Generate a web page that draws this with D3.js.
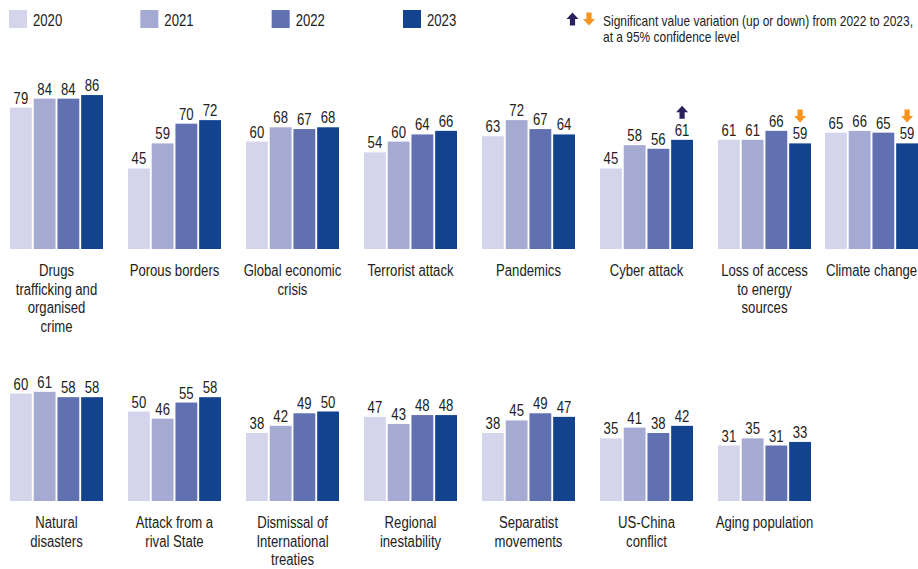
<!DOCTYPE html>
<html>
<head>
<meta charset="utf-8">
<script src="https://cdn.jsdelivr.net/npm/d3@7"></script>
<style>
  html, body { margin: 0; padding: 0; background: #fff; }
  svg { display: block; }
</style>
</head>
<body>
<svg id="chart" width="918" height="569"></svg>
<script>
// ---------- DATA ----------
const years = ["2020", "2021", "2022", "2023"];
const categories = [
  "Drugs trafficking and organised crime", "Porous borders", "Global economic crisis",
  "Terrorist attack", "Pandemics", "Cyber attack", "Loss of access to energy sources",
  "Climate change", "Natural disasters", "Attack from a rival State",
  "Dismissal of International treaties", "Regional inestability", "Separatist movements",
  "US-China conflict", "Aging population"
];
const labelLines = [
  ["Drugs", "trafficking and", "organised", "crime"], ["Porous borders"], ["Global economic", "crisis"],
  ["Terrorist attack"], ["Pandemics"], ["Cyber attack"], ["Loss of access", "to energy", "sources"],
  ["Climate change"], ["Natural", "disasters"], ["Attack from a", "rival State"],
  ["Dismissal of", "International", "treaties"], ["Regional", "inestability"], ["Separatist", "movements"],
  ["US-China", "conflict"], ["Aging population"]
];
const v2020 = [79, 45, 60, 54, 63, 45, 61, 65, 60, 50, 38, 47, 38, 35, 31];
const v2021 = [84, 59, 68, 60, 72, 58, 61, 66, 61, 46, 42, 43, 45, 41, 35];
const v2022 = [84, 70, 67, 64, 67, 56, 66, 65, 58, 55, 49, 48, 49, 38, 31];
const v2023 = [86, 72, 68, 66, 64, 61, 59, 59, 58, 58, 50, 48, 47, 42, 33];
// significant variation 2022 -> 2023: "up", "down" or null
const significance = [null, null, null, null, null, "up", "down", "down", null, null, null, null, null, null, null];
const legendNote = ["Significant value variation (up or down) from 2022 to 2023,", "at a 95% confidence level"];

// ---------- STYLE ----------
const colors = ["#d4d5ea", "#a5aad3", "#6070b0", "#13438f"];
const upColor = "#2b205e", downColor = "#f7941d";
const textColor = "#222";
const W = 918, H = 569;
const FONT = "'Liberation Sans', Arial, sans-serif";
const SX = 0.82; // narrow (condensed) look

const svg = d3.select("#chart");
const series = [v2020, v2021, v2022, v2023];

const perRow = 8;
const panelW = 93;
const colStep = 118;
const rowBase = [249, 501];
const panelX = col => Math.min(10 + col * colStep, W - panelW);

const x = d3.scaleBand().domain(years).range([0, panelW]).paddingInner(0.08);
const y = d3.scaleLinear().domain([0, 100]).range([0, 179]);

// condensed text helper
function addText(parent, tx, ty, lines, size, anchor, lineH) {
  const g = parent.append("g").attr("transform", `translate(${tx},${ty}) scale(${SX},1)`);
  const t = g.append("text")
    .attr("text-anchor", anchor)
    .attr("font-family", FONT).attr("font-size", size).attr("fill", textColor);
  lines.forEach((line, i) => {
    t.append("tspan").attr("x", 0).attr("y", i * (lineH || 0)).text(line);
  });
  return t;
}

// ---------- LEGEND ----------
const legX = d3.scalePoint().domain(years).range([9, 403]);
years.forEach((yr, i) => {
  svg.append("rect").attr("x", legX(yr)).attr("y", 10).attr("width", 18).attr("height", 18).attr("fill", colors[i]);
  addText(svg, legX(yr) + 24, 26, [yr], 16, "start");
});

function arrowPath(cx, bottom, dir) {
  const hw = 6, sw = 2.6, head = 6.5, total = 13;
  const top = bottom - total;
  if (dir === "up") {
    return `M${cx},${top} L${cx + hw},${top + head} L${cx + sw},${top + head} L${cx + sw},${bottom} L${cx - sw},${bottom} L${cx - sw},${top + head} L${cx - hw},${top + head} Z`;
  }
  return `M${cx},${bottom} L${cx + hw},${bottom - head} L${cx + sw},${bottom - head} L${cx + sw},${top} L${cx - sw},${top} L${cx - sw},${bottom - head} L${cx - hw},${bottom - head} Z`;
}

// legend note arrows
svg.append("path").attr("d", arrowPath(572.5, 25.5, "up")).attr("fill", upColor);
svg.append("path").attr("d", arrowPath(589, 25.5, "down")).attr("fill", downColor);
addText(svg, 603, 26, legendNote, 14.6, "start", 15.7);

// ---------- PANELS ----------
categories.forEach((cat, ci) => {
  const row = Math.floor(ci / perRow), col = ci % perRow;
  const g = svg.append("g").attr("transform", `translate(${panelX(col)},${rowBase[row]})`);
  const vals = series.map(s => s[ci]);

  g.selectAll("rect").data(vals).join("rect")
    .attr("x", (d, i) => x(years[i]))
    .attr("y", d => -y(d))
    .attr("width", x.bandwidth())
    .attr("height", d => y(d))
    .attr("fill", (d, i) => colors[i]);

  vals.forEach((d, i) => {
    addText(g, x(years[i]) + x.bandwidth() / 2, -y(d) - 4, [String(d)], 16, "middle");
  });

  const sig = significance[ci];
  if (sig) {
    const d = vals[3];
    const cx = x(years[3]) + x.bandwidth() / 2;
    g.append("path")
      .attr("d", arrowPath(cx, -y(d) - 21, sig))
      .attr("fill", sig === "up" ? upColor : downColor);
  }

  addText(g, panelW / 2, 27, labelLines[ci], 16, "middle", 18.6);
});
</script>
</body>
</html>
